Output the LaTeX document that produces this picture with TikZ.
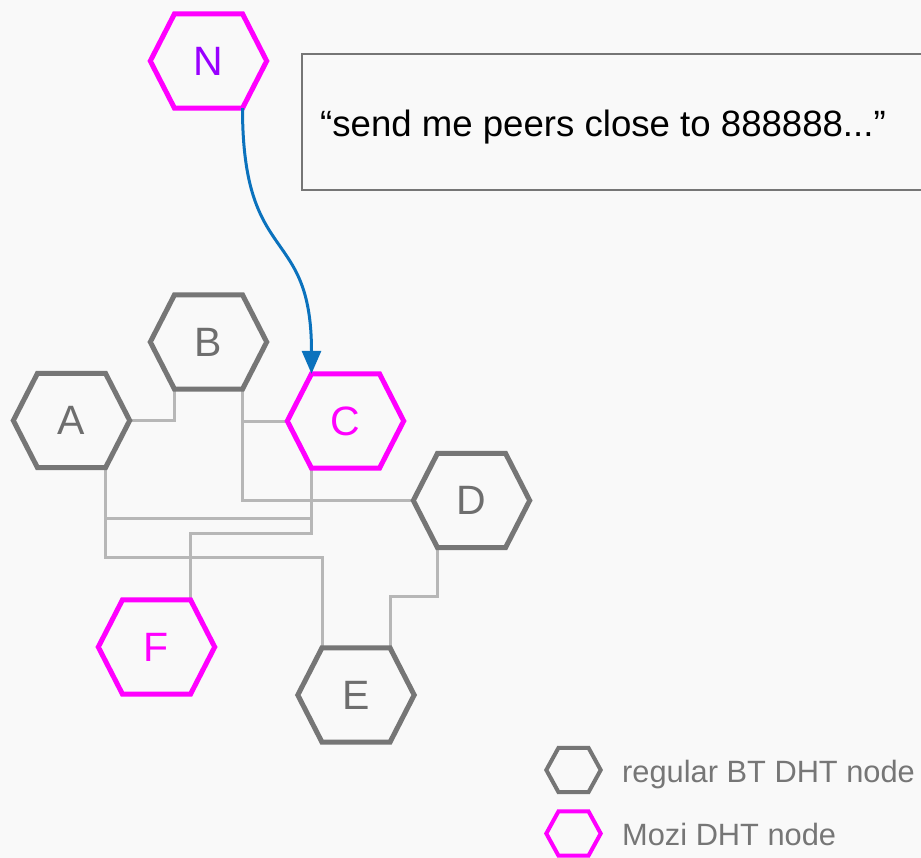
\documentclass[tikz,border=0pt]{standalone}
\usepackage{fontspec}
\setmainfont{Liberation Sans}
\usetikzlibrary{arrows.meta}

\definecolor{pagebg}{HTML}{F9F9F9}
\definecolor{hexgray}{HTML}{767676}
\definecolor{lettergray}{HTML}{6E6E6E}
\definecolor{linkgray}{HTML}{B7B7B7}
\definecolor{mozimagenta}{HTML}{FF00FF}
\definecolor{newpurple}{HTML}{9900FF}
\definecolor{queryblue}{HTML}{0B72BD}

% outline of a flat-topped hexagon around a named node;
% #2 = half width of the top and bottom edges
\newcommand\hexframe[3]{%
  \draw[#3] (#1.west) -- ([xshift=-#2]#1.north) -- ([xshift=#2]#1.north)
    -- (#1.east) -- ([xshift=#2]#1.south) -- ([xshift=-#2]#1.south) -- cycle;}

\begin{document}
\begin{tikzpicture}[x=1pt, y=-1pt,
  hexnode/.style={minimum width=116pt, minimum height=94pt, inner sep=0pt,
    font=\fontsize{41}{48}\selectfont},
  regular/.style={hexnode, text=lettergray},
  mozi/.style={hexnode, text=mozimagenta},
  legendhex/.style={minimum width=54pt, minimum height=44pt, inner sep=0pt},
  regline/.style={draw=hexgray, line width=5pt},
  moziline/.style={draw=mozimagenta, line width=5pt},
  link/.style={draw=linkgray, line width=3pt},
  query/.style={draw=queryblue, line width=3pt,
    -{Triangle[length=23pt, width=19pt]}},
  legendtext/.style={anchor=base west, inner sep=0pt, text=hexgray,
    font=\fontsize{30.8}{36}\selectfont}]

\useasboundingbox[fill=pagebg] (0,0) rectangle (921,858);

% DHT nodes
\node[hexnode, text=newpurple] (N) at (208.5,61) {N};
\node[regular] (B) at (208.5,342) {B};
\node[regular] (A) at (71.5,420.5) {A};
\node[mozi]    (C) at (345.5,421) {C};
\node[regular] (D) at (471.5,500.5) {D};
\node[regular] (E) at (356,695) {E};
\node[mozi]    (F) at (156.5,647) {F};

% routing-table links
\draw[link] (A.east) -| ([xshift=-34pt]B.south);
\draw[link] ([xshift=34pt]B.south) |- (C.west);
\draw[link] ([xshift=34pt]B.south) |- (D.west);
\draw[link] ([xshift=34pt]A.south) -- ++(0,51) -| ([xshift=-34pt]C.south);
\draw[link] ([xshift=34pt]A.south) -- ++(0,90) -| ([xshift=-34pt]E.north);
\draw[link] ([xshift=-34pt]C.south) -- ++(0,65) -| ([xshift=34pt]F.north);
\draw[link] ([xshift=-34pt]D.south) -- ++(0,49) -| ([xshift=34pt]E.north);

% hexagon outlines
\hexframe{N}{34pt}{moziline}
\hexframe{B}{34pt}{regline}
\hexframe{A}{34pt}{regline}
\hexframe{C}{34pt}{moziline}
\hexframe{D}{34pt}{regline}
\hexframe{E}{34pt}{regline}
\hexframe{F}{34pt}{moziline}

% query from N to C
\draw[query] ([xshift=34pt]N.south) .. controls +(0,160) and +(0,-150) .. ([xshift=-34pt]C.north);

% message box
\node[draw=hexgray, line width=2pt, fill=pagebg, anchor=north west,
  minimum width=650pt, minimum height=136pt] (msg) at (301,53) {};
\node[anchor=base west, inner sep=0pt, font=\fontsize{36.6}{42}\selectfont]
  (msgtext) at (320,137) {“send me peers close to 888888...”};

% legend
\node[legendhex] (legreg) at (573.5,770) {};
\hexframe{legreg}{15pt}{draw=hexgray, line width=4pt}
\node[legendtext] (legregtext) at (622,782) {regular BT DHT node};
\node[legendhex] (legmozi) at (573.5,833.5) {};
\hexframe{legmozi}{15pt}{draw=mozimagenta, line width=4pt}
\node[legendtext] (legmozitext) at (622,845) {Mozi DHT node};
\end{tikzpicture}
\end{document}
